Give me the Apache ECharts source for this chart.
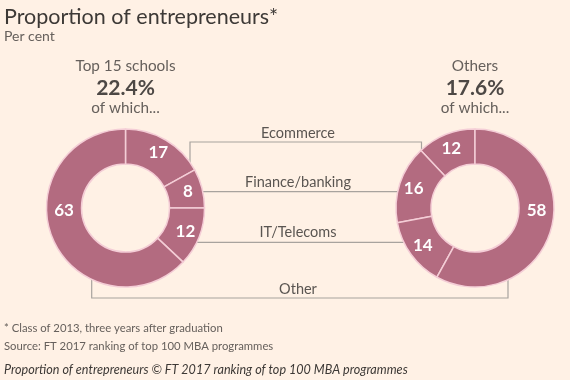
<!DOCTYPE html>
<html><head><meta charset="utf-8">
<script src="https://cdn.jsdelivr.net/npm/echarts@6/dist/echarts.min.js"></script>
<style>html,body{margin:0;padding:0;background:#fff1e5}#c{width:570px;height:380px}</style>
</head><body><div id="c"></div>
<script>
const categories = ['Ecommerce', 'Finance/banking', 'IT/Telecoms', 'Other'];
const topSchools = [17, 8, 12, 63];
const others = [12, 16, 14, 58];
const groupNames = ['Top 15 schools', 'Others'];
const groupShares = ['22.4%', '17.6%'];

const BG = '#fff1e5', SLICE = '#b36b80', SEP = '#f4cdd6', LINE = '#a8a39e';
const TXT = '#5a5551', FONT = 'Lato, "Noto Sans", sans-serif';
const L = {cx: 125.5, cy: 208}, R = {cx: 475, cy: 208}, r0 = 44, r1 = 79;
const rm = (r0 + r1) / 2;

function yOnCircle(c, x, top) { const d = Math.sqrt(r1*r1 - (x-c.cx)*(x-c.cx)); return top ? c.cy - d : c.cy + d; }
function xOnCircle(c, y, right) { const d = Math.sqrt(r1*r1 - (y-c.cy)*(y-c.cy)); return right ? c.cx + d : c.cx - d; }

function mkPie(c, vals, clockwise) {
  const side = clockwise ? -1 : 1; // side where the large "Other" slice label sits
  return {
    type: 'pie', center: [c.cx, c.cy], radius: [r0, r1], clockwise: clockwise, startAngle: 90,
    silent: true, animation: false,
    itemStyle: {color: SLICE, borderColor: SEP, borderWidth: 1.5},
    label: {show: true, position: 'inside', formatter: '{c}', color: '#fff', fontWeight: 'bold', fontSize: 17, fontFamily: FONT},
    labelLine: {show: false},
    labelLayout: function (p) {
      if (p.dataIndex === vals.length - 1) {
        return {x: c.cx + side * rm, y: c.cy + 3, align: 'center', verticalAlign: 'middle'};
      }
      return {};
    },
    data: vals.map((v, i) => ({name: categories[i], value: v}))
  };
}

const g = [];
function txt(x, y, s, o) { g.push({type: 'text', x: x, y: y, silent: true, style: Object.assign({text: s, fill: TXT, font: '14.5px ' + FONT, textAlign: 'center', textVerticalAlign: 'middle'}, o || {})}); }
function poly(pts) { g.push({type: 'polyline', silent: true, shape: {points: pts}, style: {stroke: LINE, lineWidth: 1.2, fill: null}}); }

txt(4, 17, 'Proportion of entrepreneurs*', {textAlign: 'left', fill: '#3d3936', font: '21.5px ' + FONT});
txt(4, 36, 'Per cent', {textAlign: 'left', fill: '#66605c', font: '14px ' + FONT});
[L, R].forEach((c, i) => {
  txt(c.cx, 66, groupNames[i], {fill: '#66605c', font: '15.3px ' + FONT});
  txt(c.cx, 88, groupShares[i], {fill: '#4d4845', font: 'bold 21px ' + FONT});
  txt(c.cx, 108, 'of which...', {fill: '#66605c', font: '15.3px ' + FONT});
});

// connectors
const xe1 = 190, xe2 = 421.5, ye = 142;
poly([[xe1, yOnCircle(L, xe1, true)], [xe1, ye], [xe2, ye], [xe2, yOnCircle(R, xe2, true)]]);
poly([[xOnCircle(L, 191.7, true), 191.7], [xOnCircle(R, 191.7, false), 191.7]]);
poly([[xOnCircle(L, 242.3, true), 242.3], [xOnCircle(R, 242.3, false), 242.3]]);
const xo1 = 91.7, xo2 = 508, yo = 298;
poly([[xo1, yOnCircle(L, xo1, false)], [xo1, yo], [xo2, yo], [xo2, yOnCircle(R, xo2, false)]]);
txt(298, 133, categories[0]);
txt(298, 182, categories[1]);
txt(298, 232.5, categories[2]);
txt(298, 289, categories[3]);

txt(4, 328, '* Class of 2013, three years after graduation', {textAlign: 'left', fill: '#66605c', font: '11.3px ' + FONT});
txt(4, 346, 'Source: FT 2017 ranking of top 100 MBA programmes', {textAlign: 'left', fill: '#66605c', font: '11.3px ' + FONT});
txt(4, 370, 'Proportion of entrepreneurs © FT 2017 ranking of top 100 MBA programmes', {textAlign: 'left', fill: '#3d3936', font: 'italic 12.6px ' + FONT});

const chart = echarts.init(document.getElementById('c'), null, {renderer: 'canvas'});
chart.setOption({
  backgroundColor: BG, animation: false,
  series: [mkPie(L, topSchools, true), mkPie(R, others, false)],
  graphic: g
});
</script></body></html>
